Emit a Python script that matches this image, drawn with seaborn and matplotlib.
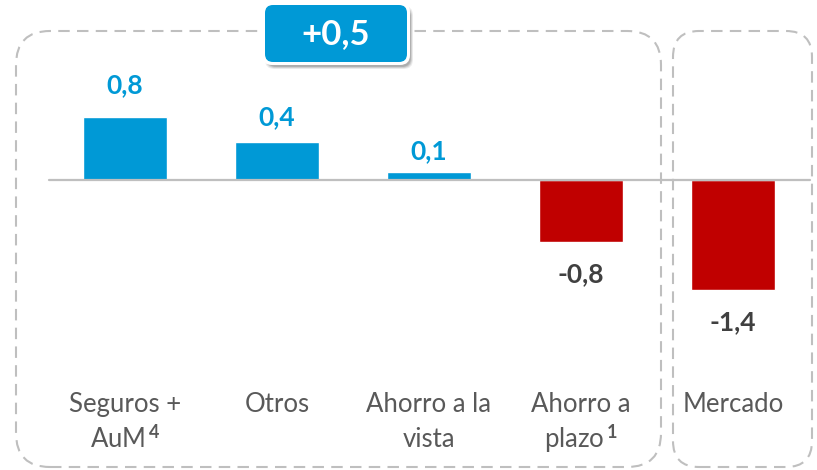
import matplotlib
matplotlib.use("Agg")
import matplotlib.pyplot as plt
from matplotlib.patches import FancyBboxPatch
from matplotlib.transforms import IdentityTransform, blended_transform_factory
import seaborn as sns
import pandas as pd

# ---- data ----
categories = ["Seguros + AuM", "Otros", "Ahorro a la vista", "Ahorro a plazo", "Mercado"]
values = [0.80, 0.48, 0.10, -0.79, -1.40]
value_labels = ["0,8", "0,4", "0,1", "-0,8", "-1,4"]
label_lines = [["Seguros +", "AuM$^{\\,\\mathbf{4}}$"], ["Otros"], ["Ahorro a la", "vista"],
               ["Ahorro a", "plazo$^{\\,\\mathbf{1}}$"], ["Mercado"]]
total_label = "+0,5"

BLUE = "#0099D6"
RED = "#C00000"
GRAY_TXT = "#595959"
DARK_TXT = "#404040"
LINE = "#BFBFBF"

sns.set_theme(style="white")
plt.rcParams["font.family"] = ["Lato", "DejaVu Sans"]
plt.rcParams["mathtext.fontset"] = "custom"
plt.rcParams["mathtext.rm"] = "Lato"
plt.rcParams["mathtext.bf"] = "Lato:bold"
plt.rcParams["mathtext.it"] = "Lato:italic"

W, H = 817, 470
fig = plt.figure(figsize=(W / 100, H / 100), dpi=100)
ax = fig.add_axes([0, 0, 1, 1])

df = pd.DataFrame({"cat": categories, "val": values,
                   "sign": ["pos" if v >= 0 else "neg" for v in values]})
sns.barplot(data=df, x="cat", y="val", hue="sign", palette={"pos": BLUE, "neg": RED},
            dodge=False, width=0.553, legend=False, ax=ax, saturation=1)

# pixel mapping
x0_px, dx_px = 125, 152
y0_px, unit_px = 179.5, 78.7
ax.set_xlim(-x0_px / dx_px, (W - x0_px) / dx_px)
ax.set_ylim(-(H - y0_px) / unit_px, y0_px / unit_px)
ax.axis("off")

# zero line
ax.axhline(0, xmin=49 / W, xmax=810 / W, color=LINE, lw=1.6, zorder=1)

# value labels
gaps_px = [23, 17, 12, 40, 40]
for i, (v, lab, g) in enumerate(zip(values, value_labels, gaps_px)):
    off = g if v >= 0 else -g
    ax.annotate(lab, xy=(i, v), xytext=(0, off * 0.72), textcoords="offset points",
                ha="center", va="baseline", fontsize=19, fontweight="bold",
                color=BLUE if v >= 0 else DARK_TXT)

# category labels (two lines, pixel baselines)
trans = blended_transform_factory(ax.transData, fig.transFigure)
baselines = [412, 447]
for i, lines in enumerate(label_lines):
    for j, line in enumerate(lines):
        ax.text(i, 1 - baselines[j] / H, line, transform=trans, ha="center", va="baseline",
                fontsize=18.5, color=GRAY_TXT)

# dashed rounded boxes (display pixel coords)
def pix_box(x1, y1, x2, y2, r, **kw):
    p = FancyBboxPatch((x1, H - y2), x2 - x1, y2 - y1,
                       boxstyle=f"round,pad=0,rounding_size={r}",
                       transform=IdentityTransform(), **kw)
    fig.patches.append(p)
    return p

pix_box(16, 31, 661, 467, 34, fill=False, ec=LINE, lw=1.5, ls=(0, (5.5, 3.5)))
pix_box(673, 31, 812, 467, 26, fill=False, ec=LINE, lw=1.5, ls=(0, (5.5, 3.5)))

# badge with shadow
for k, a in enumerate([0.06, 0.08, 0.10, 0.12]):
    s = 3 - k * 0.7
    pix_box(265 + 3 - s, 5 + 4 - s, 407 + 3 + s, 62 + 4 + s, 9, fc="black", ec="none", alpha=a)
pix_box(262, 2, 410, 65, 10, fc="white", ec="none")
pix_box(265, 5, 407, 62, 8, fc=BLUE, ec="none")
fig.text(336 / W, 1 - 34 / H, total_label, ha="center", va="center", fontsize=25,
         fontweight="bold", color="white")

fig.savefig("out.png", dpi=100)
